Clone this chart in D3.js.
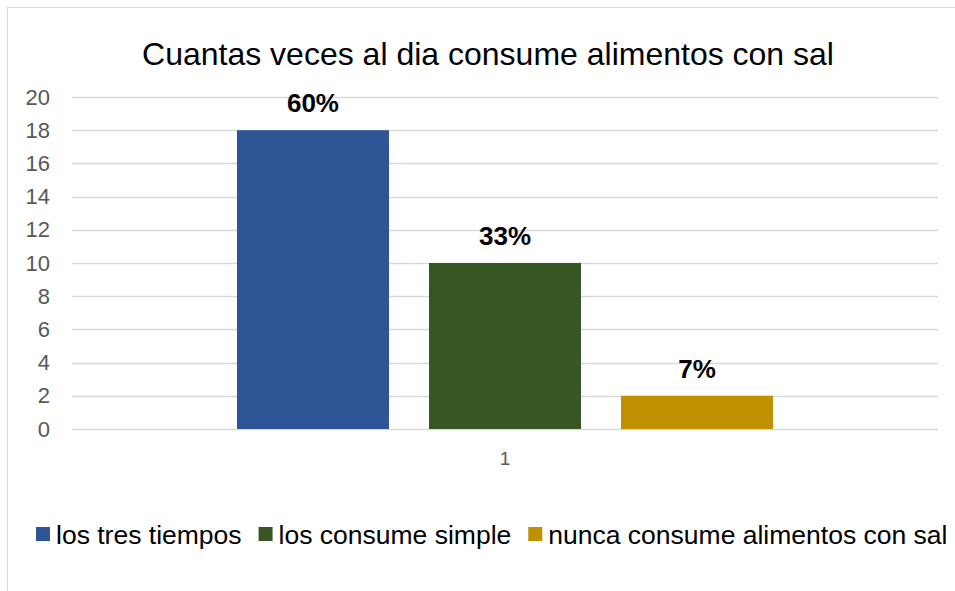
<!DOCTYPE html>
<html lang="en">
<head>
  <meta charset="utf-8">
  <title>Cuantas veces al dia consume alimentos con sal</title>
  <script src="https://cdnjs.cloudflare.com/ajax/libs/d3/7.8.5/d3.min.js"></script>
  <style>
    body { margin: 0; background: #fff; }
    text { font-family: "Liberation Sans", Arial, sans-serif; }
  </style>
</head>
<body>
  <script>
    var w = 955;
    var h = 591;

    // Data
    var categories = ['1'];
    var seriesNames = ['los tres tiempos', 'los consume simple', 'nunca consume alimentos con sal'];
    var seriesValues = [18, 10, 2];
    var seriesLabels = ['60%', '33%', '7%'];
    var seriesColors = ['#2f5597', '#375623', '#bf9000'];
    var yTicks = [0, 2, 4, 6, 8, 10, 12, 14, 16, 18, 20];

    var margin = { left: 72, right: 17, top: 97, bottom: 162 };

    var svg = d3.select('body').append('svg')
      .attr('width', w)
      .attr('height', h);

    // chart border
    svg.append('rect')
      .attr('x', 7.5).attr('y', 7.5)
      .attr('width', w + 10).attr('height', h + 10)
      .attr('fill', 'none')
      .attr('stroke', '#d9d9d9');

    var xScale = d3.scaleBand()
      .domain(categories)
      .range([margin.left, w - margin.right]);

    var yScale = d3.scaleLinear()
      .domain([0, 20])
      .range([h - margin.bottom, margin.top]);

    // bars inside the single category
    var xInner = d3.scaleBand()
      .domain(seriesNames)
      .range([0, xScale.bandwidth()])
      .paddingInner(0.2083)
      .paddingOuter(0.859);

    // gridlines
    svg.append('g')
      .selectAll('line')
      .data(yTicks)
      .join('line')
      .attr('x1', margin.left)
      .attr('x2', w - margin.right)
      .attr('y1', d => Math.round(yScale(d)) + 0.5)
      .attr('y2', d => Math.round(yScale(d)) + 0.5)
      .attr('stroke', '#d9d9d9')
      .attr('stroke-width', 1.3);

    // y axis labels
    var yAxis = d3.axisLeft(yScale).tickValues(yTicks).tickSize(0).tickPadding(22);
    var gy = svg.append('g')
      .attr('transform', 'translate(' + margin.left + ',0)')
      .call(yAxis);
    gy.select('.domain').remove();
    gy.selectAll('text')
      .attr('font-size', 22)
      .attr('fill', '#595959')
      .style('font-family', '"Liberation Sans", Arial, sans-serif');

    // x axis label
    var xAxis = d3.axisBottom(xScale).tickSize(0).tickPadding(23);
    var gx = svg.append('g')
      .attr('transform', 'translate(0,' + yScale(0) + ')')
      .call(xAxis);
    gx.select('.domain').remove();
    gx.selectAll('text')
      .attr('font-size', 19)
      .attr('fill', '#595959')
      .style('font-family', '"Liberation Sans", Arial, sans-serif');

    var x0 = xScale(categories[0]);

    // bars
    svg.append('g')
      .selectAll('rect')
      .data(seriesNames)
      .join('rect')
      .attr('x', d => x0 + xInner(d))
      .attr('y', (d, i) => yScale(seriesValues[i]))
      .attr('width', xInner.bandwidth())
      .attr('height', (d, i) => yScale(0) - yScale(seriesValues[i]))
      .attr('fill', (d, i) => seriesColors[i]);

    // value labels
    svg.append('g')
      .selectAll('text')
      .data(seriesNames)
      .join('text')
      .attr('x', d => x0 + xInner(d) + xInner.bandwidth() / 2)
      .attr('y', (d, i) => yScale(seriesValues[i]) - 18)
      .attr('text-anchor', 'middle')
      .attr('font-size', 26)
      .attr('font-weight', 'bold')
      .attr('fill', '#000')
      .text((d, i) => seriesLabels[i]);

    // title
    svg.append('text')
      .attr('x', 488)
      .attr('y', 65)
      .attr('text-anchor', 'middle')
      .attr('font-size', 32)
      .attr('fill', '#000')
      .text('Cuantas veces al dia consume alimentos con sal');

    // legend
    var legend = svg.append('g').attr('transform', 'translate(0,534)');
    var lx = 36;
    seriesNames.forEach(function (name, i) {
      var g = legend.append('g').attr('transform', 'translate(' + lx + ',0)');
      g.append('rect')
        .attr('x', 0).attr('y', -7)
        .attr('width', 14).attr('height', 14)
        .attr('fill', seriesColors[i]);
      var t = g.append('text')
        .attr('x', 20)
        .attr('y', 10)
        .attr('font-size', 26.5)
        .attr('fill', '#000')
        .text(name);
      lx += 20 + t.node().getComputedTextLength() + 17;
    });
  </script>
</body>
</html>
